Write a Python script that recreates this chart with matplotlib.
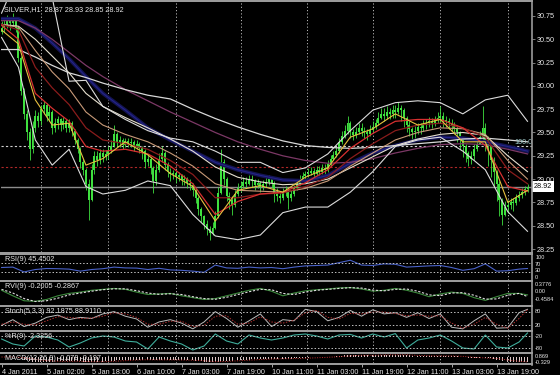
import numpy as np
import matplotlib
matplotlib.use("Agg")
import matplotlib.pyplot as plt
from matplotlib.patches import Rectangle
from matplotlib.lines import Line2D

plt.rcParams['font.family'] = ['Liberation Sans', 'DejaVu Sans']

# %%
# Hourly SILVER bars (bar 0 = 4 Jan 2011 10:00)
closes = [
    30.62, 30.66, 30.70, 30.68, 30.72, 30.62, 30.30, 29.95, 29.70, 29.50,
    29.32, 29.55, 29.68, 29.62, 29.75, 29.80, 29.68, 29.72, 29.55, 29.60,
    29.64, 29.58, 29.62, 29.55, 29.60, 29.52, 29.42, 29.32, 29.18, 29.10,
    28.95, 28.78, 29.10, 29.25, 29.20, 29.28, 29.24, 29.27, 29.30, 29.36,
    29.48, 29.40, 29.42, 29.37, 29.41, 29.39, 29.40, 29.35, 29.38, 29.33,
    29.30, 29.18, 29.22, 29.12, 28.98, 29.10, 29.22, 29.28, 29.15, 29.08,
    29.05, 29.07, 29.02, 29.04, 28.99, 29.00, 28.96, 28.94, 28.88, 28.80,
    28.68, 28.60, 28.52, 28.47, 28.42, 28.48, 28.60, 28.85, 29.18, 29.00,
    28.82, 28.78, 28.72, 28.84, 28.90, 28.93, 28.97, 28.95, 29.00, 28.98,
    28.94, 28.96, 28.91, 28.95, 28.97, 29.00, 28.96, 28.85, 28.82, 28.80,
    28.86, 28.88, 28.80, 28.84, 28.90, 28.95, 29.00, 29.03, 29.05, 29.07,
    29.09, 29.06, 29.10, 29.08, 29.12, 29.10, 29.16, 29.22, 29.26, 29.30,
    29.40, 29.46, 29.52, 29.60, 29.50, 29.47, 29.50, 29.55, 29.52, 29.50,
    29.48, 29.53, 29.56, 29.60, 29.66, 29.70, 29.68, 29.72, 29.70, 29.74,
    29.72, 29.76, 29.74, 29.66, 29.58, 29.54, 29.50, 29.52, 29.56, 29.55,
    29.58, 29.60, 29.62, 29.60, 29.64, 29.66, 29.68, 29.63, 29.62, 29.60,
    29.58, 29.55, 29.50, 29.42, 29.35, 29.28, 29.22, 29.25, 29.32, 29.38,
    29.45, 29.55, 29.42, 29.35, 29.20, 29.08, 28.95, 28.78, 28.62, 28.70,
    28.72, 28.75, 28.74, 28.80, 28.83, 28.86, 28.89, 28.92]
highs = [
    30.70, 30.72, 30.76, 30.74, 30.78, 30.74, 30.64, 30.32, 29.98, 29.74,
    29.55, 29.62, 29.74, 29.72, 29.80, 29.84, 29.82, 29.78, 29.74, 29.66,
    29.68, 29.66, 29.67, 29.64, 29.64, 29.62, 29.54, 29.44, 29.34, 29.22,
    29.12, 29.00, 29.16, 29.30, 29.30, 29.32, 29.32, 29.31, 29.36, 29.42,
    29.58, 29.50, 29.46, 29.44, 29.44, 29.44, 29.44, 29.42, 29.42, 29.40,
    29.36, 29.32, 29.26, 29.24, 29.14, 29.16, 29.28, 29.36, 29.30, 29.18,
    29.12, 29.10, 29.09, 29.08, 29.06, 29.04, 29.02, 29.00, 28.96, 28.90,
    28.82, 28.70, 28.62, 28.56, 28.50, 28.54, 28.66, 28.92, 29.32, 29.22,
    29.02, 28.86, 28.82, 28.88, 28.96, 28.98, 29.02, 29.02, 29.04, 29.04,
    29.00, 29.00, 28.98, 28.99, 29.02, 29.04, 29.03, 28.98, 28.90, 28.86,
    28.90, 28.93, 28.90, 28.88, 28.94, 28.99, 29.04, 29.08, 29.09, 29.12,
    29.13, 29.12, 29.14, 29.14, 29.16, 29.16, 29.20, 29.26, 29.30, 29.34,
    29.44, 29.52, 29.58, 29.68, 29.62, 29.54, 29.56, 29.60, 29.60, 29.56,
    29.54, 29.58, 29.62, 29.65, 29.72, 29.76, 29.76, 29.78, 29.76, 29.80,
    29.80, 29.83, 29.80, 29.76, 29.68, 29.62, 29.56, 29.57, 29.60, 29.60,
    29.63, 29.65, 29.67, 29.66, 29.68, 29.72, 29.78, 29.72, 29.68, 29.66,
    29.64, 29.61, 29.58, 29.52, 29.45, 29.38, 29.30, 29.30, 29.38, 29.44,
    29.52, 29.78, 29.60, 29.46, 29.38, 29.24, 29.10, 28.98, 28.80, 28.76,
    28.78, 28.80, 28.80, 28.84, 28.87, 28.90, 28.93, 28.95]
lows = [
    30.56, 30.58, 30.62, 30.60, 30.64, 30.58, 30.26, 29.90, 29.64, 29.42,
    29.20, 29.28, 29.50, 29.56, 29.58, 29.70, 29.62, 29.62, 29.48, 29.50,
    29.54, 29.52, 29.54, 29.50, 29.50, 29.46, 29.38, 29.28, 29.12, 29.04,
    28.88, 28.56, 28.76, 29.06, 29.14, 29.16, 29.18, 29.20, 29.22, 29.28,
    29.34, 29.34, 29.34, 29.32, 29.34, 29.34, 29.34, 29.30, 29.32, 29.28,
    29.22, 29.12, 29.14, 29.06, 28.85, 28.94, 29.08, 29.18, 29.10, 29.02,
    28.98, 29.00, 28.96, 28.98, 28.94, 28.94, 28.90, 28.88, 28.82, 28.74,
    28.62, 28.54, 28.46, 28.40, 28.35, 28.40, 28.46, 28.58, 28.84, 28.94,
    28.76, 28.68, 28.62, 28.70, 28.82, 28.86, 28.90, 28.90, 28.94, 28.92,
    28.88, 28.90, 28.86, 28.88, 28.92, 28.94, 28.90, 28.75, 28.76, 28.74,
    28.78, 28.82, 28.68, 28.76, 28.82, 28.88, 28.94, 28.98, 29.00, 29.02,
    29.04, 29.00, 29.04, 29.03, 29.06, 29.05, 29.08, 29.14, 29.20, 29.24,
    29.28, 29.38, 29.44, 29.48, 29.44, 29.42, 29.44, 29.48, 29.46, 29.44,
    29.42, 29.46, 29.50, 29.54, 29.58, 29.64, 29.62, 29.64, 29.64, 29.66,
    29.66, 29.70, 29.62, 29.56, 29.50, 29.46, 29.42, 29.44, 29.48, 29.48,
    29.52, 29.54, 29.56, 29.55, 29.57, 29.60, 29.60, 29.56, 29.56, 29.54,
    29.52, 29.48, 29.40, 29.32, 29.24, 29.18, 29.14, 29.16, 29.20, 29.30,
    29.38, 29.40, 29.30, 29.14, 29.02, 28.92, 28.76, 28.60, 28.51, 28.60,
    28.64, 28.68, 28.66, 28.72, 28.76, 28.80, 28.83, 28.86]
first_open = 30.58

# %%
# Overlay lines on the price chart, sampled at these bars
line_bars = [0, 6, 12, 18, 24, 30, 36, 44, 52, 60, 68, 76, 84, 92, 100,
             108, 116, 124, 132, 140, 148, 156, 164, 172, 180, 187]
ma_yellow = [30.60, 30.45, 29.85, 29.58, 29.60, 29.15, 29.22, 29.40, 29.26, 29.06, 28.92, 28.55, 28.88,
             28.93, 28.86, 29.02, 29.12, 29.45, 29.54, 29.70, 29.58, 29.64, 29.40, 29.40, 28.75, 28.88]
ma_red = [30.65, 30.50, 29.92, 29.76, 29.62, 29.35, 29.30, 29.32, 29.27, 29.14, 28.95, 28.62, 28.76,
          28.84, 28.86, 28.96, 29.10, 29.33, 29.49, 29.62, 29.64, 29.64, 29.55, 29.36, 28.92, 28.87]
ma_darkred = [30.66, 30.60, 30.20, 29.98, 29.80, 29.55, 29.42, 29.38, 29.32, 29.20, 29.05, 28.80, 28.80,
              28.84, 28.85, 28.92, 29.02, 29.22, 29.38, 29.52, 29.58, 29.60, 29.55, 29.45, 29.10, 28.95]
ma_tan = [30.66, 30.63, 30.38, 30.15, 29.97, 29.72, 29.58, 29.48, 29.40, 29.28, 29.14, 28.95, 28.88,
          28.87, 28.86, 28.90, 28.98, 29.14, 29.28, 29.42, 29.50, 29.55, 29.54, 29.48, 29.20, 29.00]
ma_white = [30.66, 30.64, 30.50, 30.32, 30.14, 29.92, 29.78, 29.66, 29.55, 29.43, 29.30, 29.13, 29.02,
            28.97, 28.94, 28.95, 29.00, 29.12, 29.24, 29.36, 29.43, 29.48, 29.50, 29.47, 29.25, 29.08]
ma_purple = [30.70, 30.70, 30.62, 30.50, 30.36, 30.22, 30.10, 29.96, 29.84, 29.72, 29.61, 29.50, 29.40,
             29.32, 29.25, 29.20, 29.17, 29.18, 29.22, 29.28, 29.33, 29.37, 29.38, 29.37, 29.32, 29.27]
ma_blue = [30.72, 30.72, 30.62, 30.46, 30.29, 30.10, 29.92, 29.74, 29.55, 29.42, 29.30, 29.18, 29.10,
           29.04, 28.99, 28.98, 29.04, 29.17, 29.28, 29.36, 29.42, 29.45, 29.44, 29.40, 29.35, 29.30]
ma_slow = [30.39, 30.39, 30.31, 30.22, 30.14, 30.09, 30.03, 29.96, 29.90, 29.86, 29.75, 29.65, 29.56,
           29.48, 29.41, 29.36, 29.34, 29.33, 29.34, 29.36, 29.38, 29.40, 29.43, 29.44, 29.42, 29.40]
bb_upper = [30.78, 31.20, 31.30, 30.95, 30.05, 30.06, 29.78, 29.64, 29.52, 29.44, 29.40, 29.30, 29.18,
            29.18, 29.07, 29.12, 29.27, 29.52, 29.74, 29.82, 29.84, 29.82, 29.70, 29.85, 29.90, 29.62]
bb_lower = [30.52, 30.20, 29.42, 29.15, 29.32, 28.92, 28.84, 28.88, 28.98, 28.93, 28.62, 28.39, 28.35,
            28.40, 28.64, 28.70, 28.70, 28.86, 29.08, 29.35, 29.42, 29.45, 29.30, 29.10, 28.65, 28.44]
level_white = 29.35
level_red = 29.13
bid = 28.92

# %%
# Indicator windows, sampled every 4 bars
osc_bars = list(range(0, 185, 4)) + [187]
rsi = [50, 52, 28, 40, 45, 44, 42, 32, 40, 44, 52, 48,
       47, 40, 46, 38, 36, 32, 26, 62, 48, 46, 52, 48,
       50, 44, 52, 58, 60, 62, 74, 86, 62, 60, 68, 66,
       52, 55, 58, 60, 50, 36, 44, 68, 32, 34, 42, 45]
rvi_main = [0.05, -0.25, -0.52, -0.55, -0.45, -0.25, -0.12, -0.05, 0.05, 0.10, 0.15, 0.10,
            -0.05, -0.18, -0.15, -0.12, -0.25, -0.35, -0.45, -0.40, -0.25, -0.10, 0.05, 0.15,
            0.00, -0.25, -0.10, 0.02, 0.08, 0.12, 0.18, 0.20, 0.12, 0.00, 0.05, 0.15,
            0.05, -0.10, -0.30, -0.15, -0.05, -0.12, -0.35, -0.50, -0.30, -0.12, -0.12, -0.20]
rvi_signal = [0.10, -0.10, -0.40, -0.56, -0.52, -0.38, -0.20, -0.10, 0.00, 0.08, 0.13, 0.13,
              0.03, -0.10, -0.17, -0.14, -0.18, -0.30, -0.40, -0.44, -0.33, -0.18, -0.03, 0.10,
              0.08, -0.12, -0.18, -0.05, 0.05, 0.10, 0.15, 0.19, 0.17, 0.06, 0.02, 0.10,
              0.12, 0.00, -0.20, -0.24, -0.10, -0.08, -0.22, -0.43, -0.42, -0.22, -0.12, -0.29]
stoch_main = [20, 45, 15, 30, 55, 65, 45, 55, 50, 70, 80, 60,
              48, 12, 35, 45, 30, 5, 35, 80, 50, 12, 40, 70,
              15, 45, 40, 90, 80, 40, 55, 85, 60, 88, 70, 75,
              55, 75, 50, 70, 12, 5, 40, 70, 8, 10, 75, 90]
stoch_signal = [25, 35, 25, 22, 40, 58, 55, 50, 52, 60, 75, 70,
                55, 25, 25, 38, 38, 15, 20, 60, 62, 25, 30, 58,
                35, 30, 42, 75, 85, 55, 48, 72, 70, 78, 78, 72,
                62, 65, 60, 62, 30, 8, 25, 55, 25, 8, 50, 89]
wpr = [-35, -60, -70, -20, -25, -40, -75, -55, -30, -20, -25, -45,
       -50, -85, -25, -45, -60, -90, -70, -10, -45, -60, -15, -30,
       -40, -30, -15, -10, -20, -35, -15, -12, -30, -10, -25, -8,
       -80, -40, -30, -15, -45, -80, -85, -15, -75, -80, -50, -5]
macd_signal = [0.03, 0.03, -0.02, -0.12, -0.20, -0.24, -0.24, -0.24, -0.27, -0.27, -0.24, -0.20,
               -0.16, -0.14, -0.15, -0.15, -0.16, -0.17, -0.21, -0.26, -0.25, -0.21, -0.17, -0.13,
               -0.10, -0.08, -0.07, -0.05, -0.02, 0.01, 0.05, 0.10, 0.14, 0.14, 0.16, 0.17,
               0.17, 0.13, 0.11, 0.10, 0.10, 0.07, 0.01, -0.03, -0.06, -0.16, -0.24, -0.28]
# MACD histogram, one value per bar
macd_hist = [
    0.03, 0.03, 0.04, 0.04, 0.04, 0.03, -0.02, -0.08, -0.14, -0.19,
    -0.24, -0.26, -0.27, -0.28, -0.28, -0.27, -0.27, -0.26, -0.26, -0.25,
    -0.24, -0.24, -0.23, -0.23, -0.22, -0.22, -0.23, -0.24, -0.25, -0.27,
    -0.29, -0.31, -0.30, -0.29, -0.28, -0.27, -0.26, -0.25, -0.24, -0.22,
    -0.20, -0.19, -0.18, -0.17, -0.16, -0.15, -0.14, -0.14, -0.13, -0.13,
    -0.13, -0.14, -0.14, -0.15, -0.16, -0.16, -0.15, -0.14, -0.14, -0.15,
    -0.15, -0.15, -0.16, -0.16, -0.16, -0.17, -0.17, -0.18, -0.19, -0.20,
    -0.22, -0.24, -0.26, -0.28, -0.30, -0.31, -0.30, -0.27, -0.22, -0.20,
    -0.20, -0.20, -0.20, -0.19, -0.18, -0.17, -0.15, -0.14, -0.13, -0.12,
    -0.11, -0.10, -0.10, -0.09, -0.08, -0.07, -0.07, -0.08, -0.08, -0.08,
    -0.08, -0.07, -0.07, -0.07, -0.06, -0.05, -0.04, -0.03, -0.02, -0.01,
    0.00, 0.00, 0.01, 0.01, 0.02, 0.02, 0.03, 0.04, 0.05, 0.07,
    0.09, 0.11, 0.13, 0.15, 0.15, 0.15, 0.15, 0.15, 0.15, 0.14,
    0.14, 0.14, 0.15, 0.15, 0.16, 0.17, 0.17, 0.18, 0.18, 0.18,
    0.18, 0.18, 0.18, 0.17, 0.15, 0.14, 0.12, 0.11, 0.10, 0.10,
    0.10, 0.10, 0.10, 0.10, 0.10, 0.11, 0.11, 0.11, 0.10, 0.10,
    0.09, 0.08, 0.07, 0.05, 0.03, 0.00, -0.03, -0.05, -0.05, -0.04,
    -0.02, 0.00, -0.01, -0.03, -0.06, -0.10, -0.14, -0.19, -0.24, -0.27,
    -0.29, -0.30, -0.31, -0.31, -0.31, -0.30, -0.30, -0.29]

# time axis
date_bars = [0, 16, 32, 48, 64, 80, 96, 112, 128, 144, 160, 176]
date_labels = ['4 Jan 2011', '5 Jan 02:00', '5 Jan 18:00', '6 Jan 10:00', '7 Jan 03:00',
               '7 Jan 19:00', '10 Jan 11:00', '11 Jan 03:00', '11 Jan 19:00',
               '12 Jan 11:00', '13 Jan 03:00', '13 Jan 19:00']
grid_bars = [14, 38, 62, 85, 108.5, 132, 156, 180]
price_ticks = [28.25, 28.50, 28.75, 29.00, 29.25, 29.50, 29.75, 30.00, 30.25, 30.50, 30.75]

# %%
W, H = 560, 375
fig = plt.figure(figsize=(W / 100, H / 100), dpi=100, facecolor='black')
TXT = '#e8e8e8'
FS = 5.2
FS_SMALL = 4.1


def panel(top, bottom):
    ax = fig.add_axes([1 / W, 1 - bottom / H, 531 / W, (bottom - top) / H])
    ax.set_facecolor('black')
    for s in ax.spines.values():
        s.set_visible(False)
    ax.set_xlim(-0.2, 188.6)
    ax.set_xticks([])
    ax.set_yticks([])
    for g in grid_bars:
        ax.axvline(g, color='#b8b8b8', lw=0.7, ls=(0, (1.2, 2.2)), zorder=0)
    return ax


def side_label(ax, y, s, va='center', data=True):
    tr = ax.get_yaxis_transform() if data else ax.transAxes
    ax.text(1.006, y, s, transform=tr, color=TXT, fontsize=FS_SMALL, va=va, ha='left',
            clip_on=False)


ax = panel(2, 252)
ax_rsi = panel(255, 280)
ax_rvi = panel(282, 305)
ax_st = panel(307, 330)
ax_wr = panel(332, 352)
ax_macd = panel(354, 363)

# separators and frame
for y1, y2 in [(0, 1.5), (252, 255), (280, 282), (305, 307), (330, 332), (352, 354), (363, 365)]:
    fig.add_artist(Rectangle((0, 1 - y2 / H), 533 / W, (y2 - y1) / H,
                             transform=fig.transFigure, color='#9a9a9a', lw=0))
fig.add_artist(Line2D([532 / W, 532 / W], [1 - 365 / H, 1], transform=fig.transFigure,
                      color='#9a9a9a', lw=1.2))

# %%
# main chart
x = np.arange(len(closes))
c = np.array(closes)
o = np.concatenate([[first_open], c[:-1]])
green = '#3fe03f'
ax.vlines(x, lows, highs, color=green, lw=0.6, zorder=2)
ax.bar(x, c - o, bottom=o, width=0.7, color=green, lw=0, zorder=2)

ax.axhline(level_white, color='#d0d0d0', lw=0.8, ls=(0, (2, 2)), zorder=1)
ax.axhline(level_red, color='#b02828', lw=0.8, ls=(0, (2, 2)), zorder=1)
ax.axhline(bid, color='#8c8c8c', lw=1.0, zorder=1)

ax.plot(line_bars, ma_blue, color='#141452', lw=2.8, zorder=3)
ax.plot(line_bars, ma_blue, color='#24248a', lw=0.8, zorder=3)
ax.plot(line_bars, ma_purple, color='#7c3866', lw=0.9, zorder=3)
ax.plot(line_bars, ma_slow, color='#d8d8d8', lw=0.9, zorder=3)
ax.plot(line_bars, ma_white, color='#e6e0d0', lw=0.8, zorder=4)
ax.plot(line_bars, ma_tan, color='#c89a78', lw=0.8, zorder=4)
ax.plot(line_bars, ma_darkred, color='#8a1c1c', lw=0.9, zorder=4)
ax.plot(line_bars, ma_red, color='#d83030', lw=0.9, zorder=4)
ax.plot(line_bars, ma_yellow, color='#e8c040', lw=0.8, zorder=4)
ax.plot(line_bars, bb_upper, color='#dcdcdc', lw=0.8, zorder=4)
ax.plot(line_bars, bb_lower, color='#dcdcdc', lw=0.8, zorder=4)

ax.set_ylim(28.218, 30.90)
ax.yaxis.tick_right()
ax.set_yticks(price_ticks)
ax.set_yticklabels([f'{p:.2f}' for p in price_ticks])
ax.tick_params(axis='y', colors='#909090', labelcolor=TXT, labelsize=FS, length=2, pad=1.5, width=0.6)
ax.text(0.006, 0.985, 'SILVER,H1  28.87 28.93 28.85 28.92', transform=ax.transAxes,
        color=TXT, fontsize=FS, va='top', ha='left')
ax.text(182.3, level_white + 0.01, '100.0', color='#9fcaca', fontsize=FS, va='bottom', ha='left')
ax.text(1.004, bid, '28.92', transform=ax.get_yaxis_transform(), color='black', fontsize=FS,
        va='center', ha='left', clip_on=False,
        bbox=dict(facecolor='white', edgecolor='none', boxstyle='square,pad=0.25'))

# %%
# RSI
ax_rsi.plot(osc_bars, rsi, color='#4a62c8', lw=0.8)
for lv in (70, 30):
    ax_rsi.axhline(lv, color='#c0c0c0', lw=0.7, ls=(0, (1.5, 2)))
ax_rsi.set_ylim(-12, 112)
side_label(ax_rsi, 1.0, '100', va='top', data=False)
side_label(ax_rsi, 0.64, '70', data=False)
side_label(ax_rsi, 0.37, '30', data=False)
side_label(ax_rsi, 0.0, '0', va='bottom', data=False)
ax_rsi.text(0.008, 0.95, 'RSI(9) 45.4502', transform=ax_rsi.transAxes, color=TXT,
            fontsize=FS, va='top')

# RVI
ax_rvi.plot(osc_bars, rvi_main, color='#3c8a3c', lw=0.8)
ax_rvi.plot(osc_bars, rvi_signal, color='#e0e0e0', lw=0.8, ls=(0, (2, 1.5)))
ax_rvi.set_ylim(-0.75, 0.5)
side_label(ax_rvi, 0.3776, '0.3776')
side_label(ax_rvi, 0.0, '0.00')
side_label(ax_rvi, -0.4584, '-0.4584')
ax_rvi.text(0.008, 0.95, 'RVI(9) -0.2005 -0.2867', transform=ax_rvi.transAxes, color=TXT,
            fontsize=FS, va='top')

# Stochastic
ax_st.plot(osc_bars, stoch_main, color='#bdbdbd', lw=0.7)
ax_st.plot(osc_bars, stoch_signal, color='#b03030', lw=0.7, ls=(0, (1.5, 1.5)))
for lv in (80, 20):
    ax_st.axhline(lv, color='#c0c0c0', lw=0.7, ls=(0, (1.5, 2)))
ax_st.set_ylim(0, 100)
side_label(ax_st, 80, '80')
side_label(ax_st, 20, '20')
ax_st.text(0.008, 0.95, 'Stoch(5,3,3) 92.1875 88.9110', transform=ax_st.transAxes, color=TXT,
           fontsize=FS, va='top')

# Williams %R
ax_wr.plot(osc_bars, wpr, color='#3fae9c', lw=0.8)
for lv in (-20, -80):
    ax_wr.axhline(lv, color='#c0c0c0', lw=0.7, ls=(0, (1.5, 2)))
ax_wr.set_ylim(-100, 0)
side_label(ax_wr, -20, '-20')
side_label(ax_wr, -80, '-80')
ax_wr.text(0.008, 0.95, '%R(9) -2.3256', transform=ax_wr.transAxes, color=TXT,
           fontsize=FS, va='top')

# MACD
ax_macd.bar(x, macd_hist, width=0.35, color='#d9c4c4', lw=0)
ax_macd.plot(osc_bars, macd_signal, color='#c03030', lw=0.7, ls=(0, (1, 1.5)))
ax_macd.set_ylim(-0.35, 0.22)
side_label(ax_macd, 1.05, '0.869', va='top', data=False)
side_label(ax_macd, 0.35, '-0.329', va='top', data=False)
ax_macd.text(0.008, 0.9, 'MACD(12,26,9) -0.078 -0.197', transform=ax_macd.transAxes, color=TXT,
             fontsize=FS, va='top')

ax_macd.set_xticks(date_bars)
ax_macd.set_xticklabels(date_labels)
ax_macd.tick_params(axis='x', colors='#c0c0c0', labelcolor=TXT, labelsize=FS, length=3, pad=1.5,
                    width=0.6, bottom=True)
for lbl in ax_macd.get_xticklabels():
    lbl.set_horizontalalignment('left')

fig.savefig('out.png', dpi=100, facecolor='black')
